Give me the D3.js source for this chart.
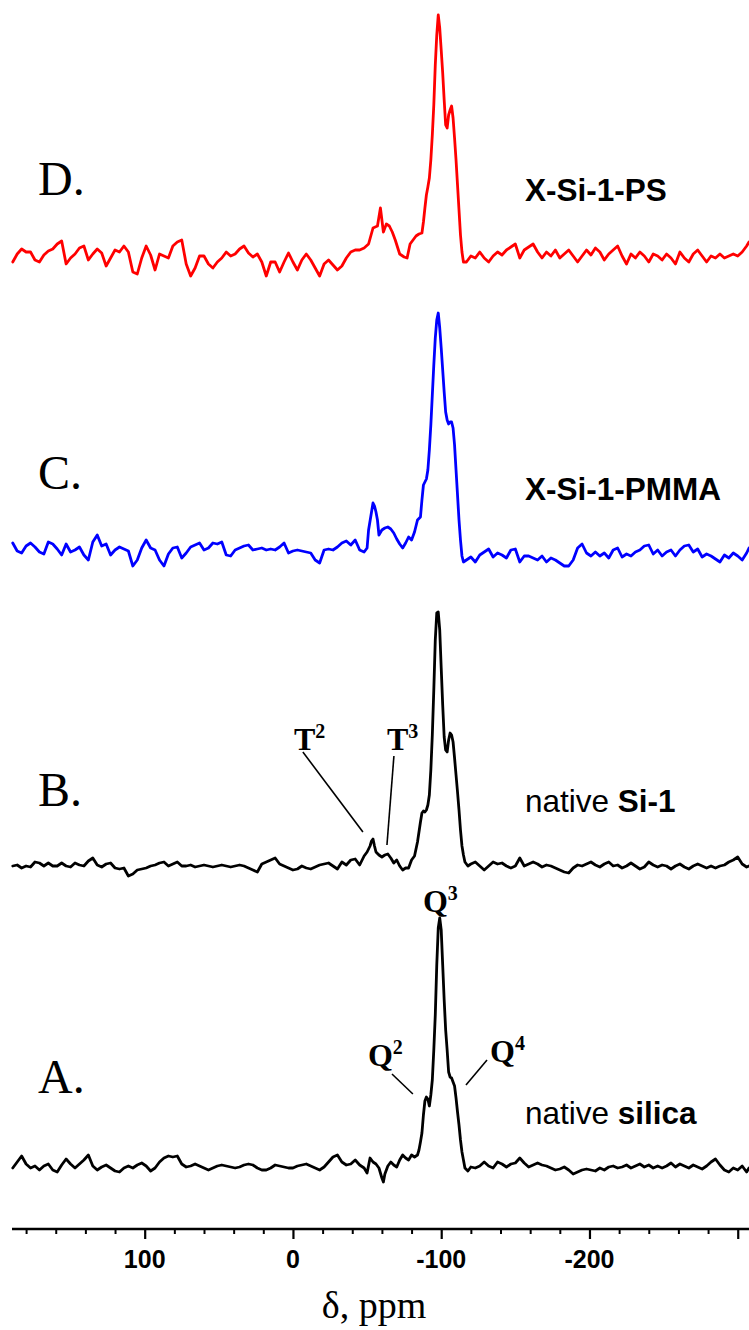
<!DOCTYPE html>
<html>
<head>
<meta charset="utf-8">
<script src="https://cdn.jsdelivr.net/npm/d3@7"></script>
<style>
  html, body { margin: 0; padding: 0; background: #ffffff; }
  svg { display: block; }
</style>
</head>
<body>
<svg id="chart" width="749" height="1330"></svg>
<script>
// 29Si MAS NMR spectra: [chemical shift (ppm), intensity (a.u., baseline = 0)]
const spectrumA = [[189,-3],[186,3],[183,9],[180,1],[177,-3],[174,-1],[171,-5],[168,-1],[165,1],[162,-5],[159,-7],[156,0],[153,6],[150,1],[147,-3],[144,1],[141,5],[138,10],[135,-1],[132,-5],[129,-2],[126,0],[123,-3],[120,-6],[117,-7],[114,-3],[111,-1],[108,-3],[105,0],[102,2],[99,-1],[96,-6],[93,-3],[90,3],[87,7],[84,9],[81,8],[78,9],[75,1],[72,-2],[69,-1],[66,1],[63,-1],[60,-3],[57,-5],[54,-3],[51,-1],[48,0],[45,-1],[42,-2],[39,-3],[36,-2],[33,0],[30,1],[27,0],[24,-3],[21,-5],[18,-5],[15,-3],[12,0],[9,-1],[6,-2],[3,-3],[0,-3],[-3,-1],[-6,0],[-9,1],[-12,-1],[-15,-3],[-18,-5],[-21,-2],[-24,3],[-27,8],[-30,10],[-33,3],[-36,0],[-39,1],[-42,5],[-45,0],[-48,-3],[-50,-8],[-52,7],[-54,3],[-56,1],[-58,-3],[-60,-13],[-61,-17],[-62,-9],[-64,-1],[-66,3],[-68,0],[-70,-2],[-72,5],[-74,10],[-76,7],[-78,5],[-80,10],[-82,8],[-84,10],[-85,15],[-86,23],[-87,32],[-88,50],[-89,64],[-90,68],[-91,66],[-92,59],[-93,70],[-94,85],[-95,115],[-96,150],[-97,200],[-98,237],[-99,247],[-100,235],[-101,200],[-102,165],[-103,135],[-104,115],[-105,93],[-106,88],[-107,87],[-108,83],[-109,79],[-110,67],[-111,53],[-112,40],[-113,25],[-114,13],[-115,5],[-116,-3],[-118,-6],[-120,-2],[-123,-3],[-126,-1],[-129,3],[-132,-1],[-135,-3],[-138,3],[-141,1],[-144,-2],[-147,1],[-150,2],[-153,7],[-156,2],[-159,-2],[-162,0],[-165,2],[-168,0],[-171,-1],[-174,-3],[-177,-5],[-180,-4],[-183,-2],[-186,-5],[-189,-9],[-192,-7],[-195,-5],[-198,-4],[-201,-5],[-204,-6],[-207,-3],[-210,-5],[-213,-2],[-216,-1],[-219,-3],[-222,-2],[-225,0],[-228,-3],[-231,-1],[-234,1],[-237,-2],[-240,0],[-243,-3],[-246,-1],[-249,-3],[-252,-1],[-255,2],[-258,-2],[-261,1],[-264,-1],[-267,-3],[-270,0],[-273,-2],[-276,-4],[-279,-1],[-282,3],[-285,6],[-288,0],[-291,-5],[-294,-7],[-297,-3],[-300,-5],[-303,-1],[-306,-7],[-307.6,-3]];

const spectrumB = [[189,-1],[186,0],[183,-3],[180,-1],[177,-2],[174,3],[171,2],[168,-1],[165,2],[162,-1],[159,-1],[156,2],[153,-1],[150,-2],[147,2],[144,0],[141,-1],[138,4],[135,7],[132,0],[129,-2],[126,1],[123,2],[120,-3],[117,-4],[114,-3],[111,-11],[108,-9],[105,-5],[102,-4],[99,-3],[96,-1],[93,0],[90,2],[87,3],[84,-1],[81,1],[78,3],[75,-1],[72,-1],[69,0],[66,-2],[63,-1],[60,0],[57,-1],[54,-2],[51,-1],[48,0],[45,-1],[42,-2],[39,-1],[36,0],[33,-1],[30,-3],[27,-5],[24,-7],[21,1],[18,3],[15,5],[12,7],[9,1],[6,-1],[3,-3],[0,-5],[-3,-4],[-6,-1],[-9,-3],[-12,-4],[-15,-2],[-18,0],[-21,1],[-24,2],[-27,-1],[-30,-4],[-33,3],[-36,0],[-39,5],[-42,6],[-45,0],[-48,9],[-50,13],[-52,19],[-53,24],[-54,26],[-55,19],[-56,13],[-58,10],[-60,8],[-62,10],[-64,11],[-66,7],[-68,2],[-70,5],[-72,-1],[-74,-5],[-76,-3],[-78,-3],[-80,5],[-82,9],[-84,23],[-86,43],[-87,52],[-88,54],[-89,53],[-90,55],[-91,60],[-92,70],[-93,95],[-94,130],[-95,175],[-96,225],[-97,252],[-98,253],[-99,235],[-100,197],[-101,160],[-102,128],[-103,115],[-104,113],[-105,125],[-106,132],[-107,130],[-108,123],[-109,107],[-110,90],[-111,73],[-112,55],[-113,35],[-114,19],[-115,10],[-116,3],[-118,-1],[-120,1],[-123,3],[-126,-1],[-129,-5],[-132,-1],[-135,3],[-138,1],[-141,2],[-144,-1],[-147,-3],[-150,-1],[-153,7],[-156,-1],[-159,1],[-162,3],[-165,1],[-168,-2],[-171,0],[-174,-1],[-177,-3],[-180,-5],[-183,-7],[-186,-8],[-189,-3],[-192,0],[-195,-1],[-198,1],[-201,3],[-204,0],[-207,-2],[-210,1],[-213,3],[-216,-1],[-219,0],[-222,-3],[-225,-1],[-228,2],[-231,-1],[-234,-4],[-237,-2],[-240,3],[-243,0],[-246,-2],[-249,0],[-252,-1],[-255,-4],[-258,-1],[-261,1],[-264,-2],[-267,-4],[-270,-1],[-273,1],[-276,-1],[-279,-3],[-282,-1],[-285,-3],[-288,-1],[-291,0],[-294,3],[-297,5],[-300,8],[-303,1],[-306,-2],[-307.6,-1]];

const spectrumC = [[189,5],[186,-3],[183,-5],[180,2],[177,5],[174,1],[171,-4],[168,-6],[165,6],[162,4],[159,-1],[156,-7],[153,4],[150,-4],[147,-2],[144,1],[141,-7],[138,-12],[135,6],[132,13],[129,2],[126,4],[123,-7],[120,-2],[117,1],[114,-1],[111,-3],[108,-18],[105,-12],[102,0],[99,8],[96,0],[93,-2],[90,-12],[87,-18],[84,-6],[81,0],[78,1],[75,-10],[72,-5],[69,1],[66,3],[63,5],[60,-2],[57,0],[54,5],[51,4],[48,6],[45,-7],[42,-8],[39,-2],[36,0],[33,2],[30,3],[27,-2],[24,-1],[21,0],[18,-2],[15,-1],[12,-2],[9,1],[6,5],[3,-5],[0,-3],[-3,-2],[-6,-3],[-9,-4],[-12,-5],[-15,-12],[-18,-15],[-21,-2],[-24,-1],[-27,-2],[-30,1],[-33,5],[-36,7],[-39,3],[-42,8],[-45,-2],[-48,-4],[-50,0],[-51,18],[-53,36],[-54,45],[-55,42],[-56,36],[-57,28],[-58,13],[-60,18],[-62,20],[-64,21],[-66,19],[-68,15],[-70,9],[-72,4],[-74,0],[-76,5],[-78,11],[-80,8],[-82,16],[-84,28],[-86,31],[-87,48],[-88,63],[-89,66],[-90,69],[-91,78],[-92,98],[-93,123],[-94,153],[-95,183],[-96,210],[-97,228],[-98,235],[-99,220],[-100,200],[-101,178],[-102,156],[-103,136],[-104,128],[-105,124],[-106,126],[-107,126],[-108,120],[-109,103],[-110,78],[-111,53],[-112,28],[-113,8],[-114,-8],[-115,-14],[-117,-12],[-120,-9],[-123,-14],[-126,-7],[-129,-4],[-132,-1],[-135,-9],[-138,-5],[-141,-7],[-144,-10],[-147,-2],[-150,-1],[-153,-14],[-156,-8],[-159,-8],[-162,-10],[-165,-12],[-168,-8],[-171,-14],[-174,-10],[-177,-12],[-180,-15],[-183,-18],[-186,-18],[-189,-12],[-192,0],[-195,4],[-198,-5],[-201,-8],[-204,-4],[-207,-8],[-210,-5],[-213,-10],[-216,-2],[-219,0],[-222,-9],[-225,-6],[-228,-8],[-231,-4],[-234,-2],[-237,2],[-240,3],[-243,-6],[-246,-2],[-249,-8],[-252,-4],[-255,-2],[-258,-8],[-261,-2],[-264,2],[-267,3],[-270,-4],[-273,-1],[-276,-9],[-279,-6],[-282,-8],[-285,-11],[-288,-14],[-291,-7],[-294,-10],[-297,-5],[-300,-8],[-303,-12],[-306,-5],[-307.6,0]];

const spectrumD = [[189,-7],[186,1],[183,6],[180,3],[177,3],[174,-5],[171,-7],[168,0],[165,4],[162,6],[159,11],[156,14],[153,-9],[150,-3],[147,1],[144,7],[141,9],[138,-5],[135,1],[132,6],[129,2],[126,-11],[123,-3],[120,5],[117,3],[114,9],[111,3],[108,-17],[105,-19],[102,-3],[99,9],[96,0],[93,-15],[90,1],[87,-1],[84,-3],[81,9],[78,13],[75,15],[72,-9],[69,-21],[66,-13],[63,-1],[60,-1],[57,-9],[54,-13],[51,-7],[48,-3],[45,3],[42,-1],[39,1],[36,6],[33,9],[30,2],[27,-2],[24,1],[21,-7],[18,-21],[15,-7],[12,-7],[9,-17],[6,-7],[3,2],[0,-7],[-3,-15],[-6,-5],[-9,1],[-12,-5],[-15,-13],[-18,-21],[-21,-9],[-24,-5],[-27,-10],[-30,-15],[-33,-11],[-36,-3],[-39,3],[-42,5],[-45,5],[-48,7],[-51,11],[-54,27],[-57,29],[-59,47],[-61,23],[-63,31],[-65,29],[-67,23],[-69,15],[-72,1],[-75,-2],[-77,-3],[-79,11],[-81,15],[-83,19],[-85,21],[-87,22],[-88,33],[-89,47],[-90,60],[-91,68],[-92,77],[-93,95],[-94,120],[-95,150],[-96,190],[-97,220],[-98,240],[-99,227],[-100,205],[-101,182],[-102,155],[-103,130],[-104,127],[-105,140],[-106,145],[-107,149],[-108,137],[-109,117],[-110,95],[-111,70],[-112,45],[-113,20],[-114,3],[-115,-7],[-117,-7],[-120,-1],[-123,-3],[-126,3],[-129,-3],[-132,-7],[-135,-1],[-138,3],[-141,0],[-144,5],[-147,8],[-150,11],[-153,-3],[-156,5],[-159,8],[-162,11],[-165,3],[-168,-3],[-171,3],[-174,-1],[-177,5],[-180,-3],[-183,1],[-186,5],[-189,-1],[-192,-7],[-195,-1],[-198,5],[-201,0],[-204,7],[-207,3],[-210,-5],[-213,1],[-216,5],[-219,9],[-222,-1],[-225,-9],[-228,1],[-231,-3],[-234,3],[-237,-1],[-240,-7],[-243,1],[-246,-1],[-249,-5],[-252,1],[-255,-3],[-258,-9],[-261,3],[-264,-3],[-267,-7],[-270,1],[-273,5],[-276,-1],[-279,-7],[-282,-1],[-285,-3],[-288,1],[-291,-3],[-294,-1],[-297,1],[-300,-1],[-303,3],[-306,9],[-307.6,13]];

const panelLetters = ["A.", "B.", "C.", "D."];
const sampleNames = [
  { plain: "native ", bold: "silica" },
  { plain: "native ", bold: "Si-1" },
  { plain: "", bold: "X-Si-1-PMMA" },
  { plain: "", bold: "X-Si-1-PS" }
];
const majorTicks = [100, 0, -100, -200, -300];
const labelledTicks = [100, 0, -100, -200];
const minorTicks = [180, 160, 140, 120, 80, 60, 40, 20, -20, -40, -60, -80, -120, -140, -160, -180, -220, -240, -260, -280];

// Peak assignments: label, superscript, trace index, text anchor (ppm, a.u.), leader line (ppm, a.u.)
const assignments = [
  { t: "T", s: "2", trace: 1, at: [-0.7, 115], line: [[-6.7, 113], [-47.2, 33]] },
  { t: "T", s: "3", trace: 1, at: [-63.4, 115], line: [[-68.1, 109], [-63.4, 20]] },
  { t: "Q", s: "3", trace: 0, at: [-87.7, 253], line: null },
  { t: "Q", s: "2", trace: 0, at: [-50.6, 99], line: [[-66.8, 91], [-80.9, 71]] },
  { t: "Q", s: "4", trace: 0, at: [-132.9, 103], line: [[-130.9, 105], [-116.7, 80]] }
];

// Layout
const W = 749, H = 1330;
const axisY = 1229;
const stackOffset = [64, 364, 681, 974];           // vertical stacking of the traces (a.u.)
const traceColors = ["#000000", "#000000", "#0000ff", "#ff0000"];
const letterY = [1093, 806, 489, 195];
const nameY = [1124, 812, 500, 201];

const svg = d3.select("#chart");
svg.append("rect").attr("width", W).attr("height", H).attr("fill", "#ffffff");

const x = d3.scaleLinear().domain([189.5, -307.6]).range([12, 749]);
const y = d3.scaleLinear().domain([0, 1200]).range([axisY, 29]);

const spectra = [spectrumA, spectrumB, spectrumC, spectrumD];

// Traces
spectra.forEach((data, i) => {
  const line = d3.line()
    .x(d => x(d[0]))
    .y(d => y(stackOffset[i] + d[1]));
  svg.append("path")
    .datum(data)
    .attr("d", line)
    .attr("fill", "none")
    .attr("stroke", traceColors[i])
    .attr("stroke-width", 2.8)
    .attr("stroke-linejoin", "round")
    .attr("stroke-linecap", "round");
});

// Panel letters
svg.append("g").selectAll("text")
  .data(panelLetters)
  .join("text")
  .attr("x", 38)
  .attr("y", (d, i) => letterY[i])
  .attr("font-family", "'Liberation Serif', 'Times New Roman', serif")
  .attr("font-size", 48)
  .attr("fill", "#000")
  .text(d => d);

// Sample names
const names = svg.append("g").selectAll("text")
  .data(sampleNames)
  .join("text")
  .attr("x", 525)
  .attr("y", (d, i) => nameY[i])
  .attr("font-family", "'Liberation Sans', Arial, sans-serif")
  .attr("font-size", 31.5)
  .attr("fill", "#000");
names.append("tspan").text(d => d.plain);
names.append("tspan").attr("font-weight", "bold").text(d => d.bold);

// Peak assignments
const ann = svg.append("g");
assignments.forEach(a => {
  const off = stackOffset[a.trace];
  const tx = ann.append("text")
    .attr("x", x(a.at[0]))
    .attr("y", y(off + a.at[1]))
    .attr("font-family", "'Liberation Serif', 'Times New Roman', serif")
    .attr("font-weight", "bold")
    .attr("font-size", 32)
    .attr("fill", "#000");
  tx.append("tspan").text(a.t);
  tx.append("tspan").attr("font-size", 20).attr("dy", -12).text(a.s);
  if (a.line) {
    ann.append("line")
      .attr("x1", x(a.line[0][0])).attr("y1", y(off + a.line[0][1]))
      .attr("x2", x(a.line[1][0])).attr("y2", y(off + a.line[1][1]))
      .attr("stroke", "#000")
      .attr("stroke-width", 1.6);
  }
});

// Chemical shift axis
const axisG = svg.append("g").attr("transform", `translate(0,${axisY})`);
axisG.append("g")
  .call(d3.axisBottom(x).tickValues(minorTicks).tickSize(5).tickFormat(""))
  .call(g => g.select(".domain").remove())
  .call(g => g.selectAll(".tick line").attr("stroke", "#000").attr("stroke-width", 2));
axisG.append("g")
  .call(d3.axisBottom(x).tickValues(majorTicks).tickSize(10).tickFormat(""))
  .call(g => g.select(".domain").remove())
  .call(g => g.selectAll(".tick line").attr("stroke", "#000").attr("stroke-width", 2.2));
axisG.append("line")
  .attr("x1", x.range()[0]).attr("x2", x.range()[1])
  .attr("y1", 0).attr("y2", 0)
  .attr("stroke", "#000").attr("stroke-width", 2.4);
axisG.append("g").selectAll("text")
  .data(labelledTicks)
  .join("text")
  .attr("x", d => x(d))
  .attr("y", 39)
  .attr("text-anchor", "middle")
  .attr("font-family", "'Liberation Sans', Arial, sans-serif")
  .attr("font-weight", "bold")
  .attr("font-size", 25)
  .attr("fill", "#000")
  .text(d => String(d));

svg.append("text")
  .attr("x", 374)
  .attr("y", 1318)
  .attr("text-anchor", "middle")
  .attr("font-family", "'Liberation Serif', 'Times New Roman', serif")
  .attr("font-size", 38)
  .attr("fill", "#000")
  .text("δ, ppm");
</script>
</body>
</html>
